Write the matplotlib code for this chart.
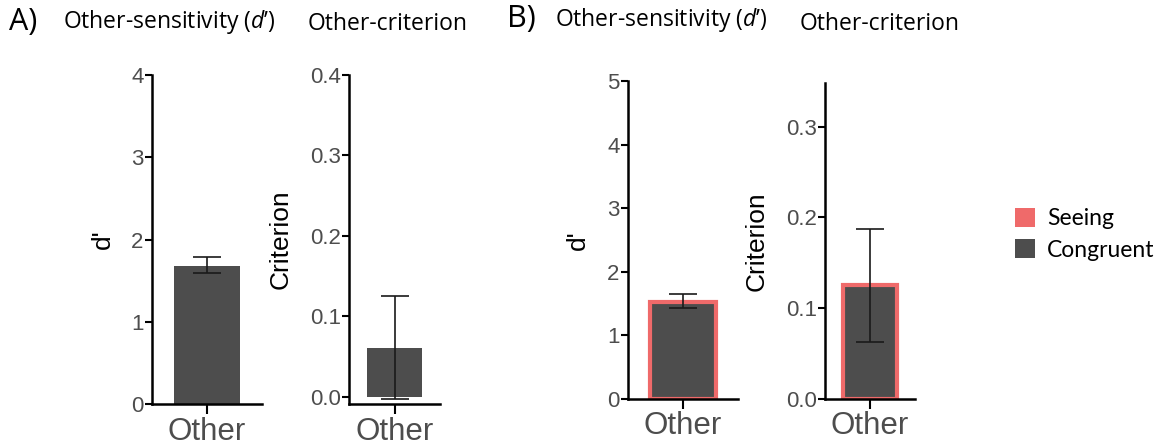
import matplotlib
matplotlib.use('Agg')
import matplotlib.pyplot as plt
from matplotlib.patches import Patch

plt.rcParams['font.family'] = ['Liberation Sans', 'DejaVu Sans']
plt.rcParams['mathtext.fontset'] = 'custom'
plt.rcParams['mathtext.rm'] = 'Open Sans'
plt.rcParams['mathtext.it'] = 'Open Sans:italic'

# Данные
# ==========================================================
categories = ['Other']

a_dprime = [1.68]
a_dprime_err = [(0.09, 0.11)]      # (вниз, вверх)
a_crit = [0.061]
a_crit_err = [(0.063, 0.064)]

b_dprime = [1.53]
b_dprime_err = [(0.10, 0.12)]
b_crit = [0.125]
b_crit_err = [(0.062, 0.062)]

legend_labels = ['Seeing', 'Congruent']
# ==========================================================

DARK = '#4d4d4d'
SEEING = '#ef6a6a'
W, H = 1160, 445


def px_axes(fig, x0, x1, ytop, ybot):
    return fig.add_axes([x0 / W, 1 - ybot / H, (x1 - x0) / W, (ybot - ytop) / H])


def panel(ax, values, err, ylim, yticks, fmt, ylabel, label_x, edge=None):
    lo = [e[0] for e in err]
    hi = [e[1] for e in err]
    if edge:
        ax.bar(categories, values, width=0.6, color=DARK, edgecolor=edge, linewidth=3, zorder=2)
    else:
        ax.bar(categories, values, width=0.6, color=DARK, zorder=2)
    ax.errorbar(categories, values, yerr=[lo, hi], fmt='none', ecolor='#1a1a1a',
                elinewidth=1.2, capsize=10, capthick=1.2, zorder=3)
    ax.set_xlim(-0.5, 0.5)
    ax.set_ylim(*ylim)
    ax.set_yticks(yticks)
    ax.set_yticklabels([fmt.format(t) for t in yticks])
    for s in ['top', 'right']:
        ax.spines[s].set_visible(False)
    for s in ['left', 'bottom']:
        ax.spines[s].set_linewidth(1.8)
        ax.spines[s].set_color('black')
    ax.tick_params(axis='y', length=5, width=1.5, pad=1, labelsize=16, labelcolor=DARK)
    ax.tick_params(axis='x', length=7, width=1.5, pad=2, labelsize=22.5, labelcolor=DARK)
    ax.set_ylabel(ylabel, fontsize=19, color='black')
    ax.yaxis.set_label_coords(label_x, 0.5)


fig = plt.figure(figsize=(W / 100, H / 100), dpi=100)

ax1 = px_axes(fig, 152, 262, 75, 404)
panel(ax1, a_dprime, a_dprime_err, (0, 4), [0, 1, 2, 3, 4], '{:.0f}', "d'", -0.34)

ax2 = px_axes(fig, 349, 440, 75, 404)
panel(ax2, a_crit, a_crit_err, (-0.0087, 0.4), [0, 0.1, 0.2, 0.3, 0.4], '{:.1f}', 'Criterion', -0.615)

ax3 = px_axes(fig, 628, 738, 81, 399)
panel(ax3, b_dprime, b_dprime_err, (0, 5), [0, 1, 2, 3, 4, 5], '{:.0f}', "d'", -0.345, edge=SEEING)

ax4 = px_axes(fig, 825, 915, 83, 399)
panel(ax4, b_crit, b_crit_err, (0, 0.348), [0, 0.1, 0.2, 0.3], '{:.1f}', 'Criterion', -0.63, edge=SEEING)

# Заголовки
title_kw = dict(fontsize=16.5, family='Open Sans', va='center', ha='left')
fig.text(9 / W, 1 - 22 / H, 'A)', fontsize=22, family='Open Sans', va='center', ha='left')
fig.text(63 / W, 1 - 22 / H, 'Other-sensitivity ($\\mathit{d’}$)', **title_kw)
fig.text(308 / W, 1 - 24 / H, 'Other-criterion', **title_kw)
fig.text(507 / W, 1 - 19 / H, 'B)', fontsize=22, family='Open Sans', va='center', ha='left')
fig.text(555 / W, 1 - 20 / H, 'Other-sensitivity ($\\mathit{d’}$)', **title_kw)
fig.text(800 / W, 1 - 24 / H, 'Other-criterion', **title_kw)

handles = [Patch(facecolor=SEEING, edgecolor='none'), Patch(facecolor=DARK, edgecolor='none')]
fig.legend(handles, legend_labels, loc='upper left', bbox_to_anchor=(994 / W, 1 - 187 / H),
           frameon=False, prop={'family': 'Lato', 'size': 16.5},
           handlelength=0.9, handleheight=0.9, handletextpad=0.5, labelspacing=0.45)

fig.savefig('out.png', dpi=100)
